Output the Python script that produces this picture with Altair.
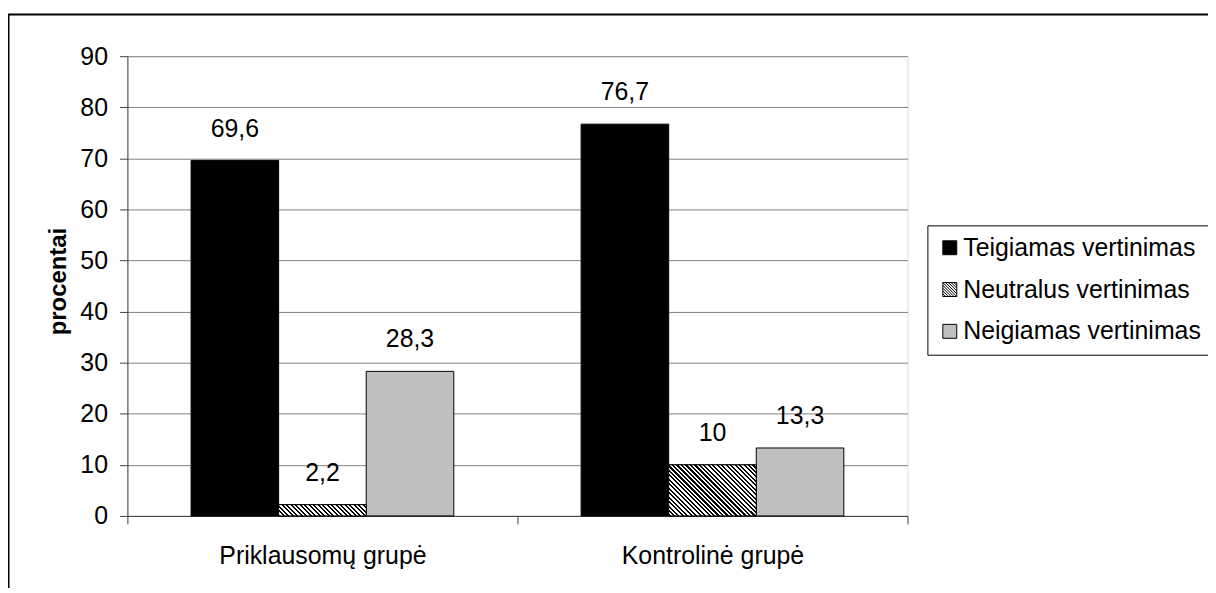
import altair as alt
import pandas as pd

groups = ["Priklausomų grupė", "Kontrolinė grupė"]
series = ["Teigiamas vertinimas", "Neutralus vertinimas", "Neigiamas vertinimas"]
values_priklausomu = [69.6, 2.2, 28.3]
values_kontroline = [76.7, 10, 13.3]
y_ticks = [0, 10, 20, 30, 40, 50, 60, 70, 80, 90]
series_colors = ["#000000", "#ffffff", "#c0c0c0"]

rows = []
for g, vals in zip(groups, [values_priklausomu, values_kontroline]):
    for s, v in zip(series, vals):
        rows.append({"group": g, "series": s, "value": v,
                     "label": f"{v:g}".replace(".", ",")})
df = pd.DataFrame(rows)

FONT = "Liberation Sans"
FS = 25
PLOT_W, PLOT_H = 784, 462
Y_MAX = 90
BAR_W = 88.0


def hatch_gradient(w, h, period=4.5):
    """Diagonal stripes as a hard-stop linear gradient in bbox units."""
    r = min(h / w, 1.0)
    s = (1 + r) / (1 + r * r)
    n = max(3, int(round(w * (1 + r) / period)))
    stops = []
    for k in range(n):
        a = k / n
        m = (k + 0.5) / n
        b = min((k + 1) / n, 1.0)
        stops += [
            {"offset": a, "color": "#000000"},
            {"offset": m, "color": "#000000"},
            {"offset": m, "color": "#ffffff"},
            {"offset": b, "color": "#ffffff"},
        ]
    return {"gradient": "linear", "x1": 0, "y1": 1, "x2": s, "y2": 1 - r * s,
            "stops": stops}


def hatch_symbol_path(step=0.4):
    parts = ["M-1,-1H1V1H-1Z"]
    c = -2 + step
    while c < 2 - 1e-9:
        if c >= 0:
            x0, y0, x1, y1 = c - 1, -1, 1, 1 - c
        else:
            x0, y0, x1, y1 = -1, -1 - c, 1 + c, 1
        parts.append(f"M{x0:.3f},{y0:.3f}L{x1:.3f},{y1:.3f}")
        c += step
    return "".join(parts)


series_shapes = ["square", hatch_symbol_path(), "square"]

x_enc = alt.X(
    "group:N", sort=groups, title=None,
    scale=alt.Scale(domain=groups, paddingInner=0, paddingOuter=0),
    axis=alt.Axis(labelAngle=0, tickBand="extent", tickSize=8, labelPadding=20,
                  labelFont=FONT, labelFontSize=FS, labelColor="black",
                  labelLimit=500,
                  domainColor="#404040", tickColor="#404040", grid=False),
)
xoff_enc = alt.XOffset(
    "series:N", sort=series,
    scale=alt.Scale(domain=series, paddingInner=0, paddingOuter=0.727),
)
y_enc = alt.Y(
    "value:Q",
    scale=alt.Scale(domain=[0, Y_MAX], nice=False, zero=True),
    axis=alt.Axis(values=y_ticks, tickSize=8, labelPadding=12,
                  labelFont=FONT, labelFontSize=FS, labelColor="black",
                  domainColor="#404040", tickColor="#404040",
                  gridColor="#808080", gridWidth=1,
                  title="procentai", titleFont=FONT, titleFontSize=24,
                  titleFontWeight="bold", titleColor="black",
                  titleAngle=-90, titleAlign="center", titleBaseline="middle",
                  titleX=-69, titleY=226),
)

legend = alt.Legend(
    title=None, orient="none", legendX=804, legendY=170,
    strokeColor="black", fillColor="white", padding=10,
    symbolSize=196, symbolStrokeColor="black",
    symbolStrokeWidth=1, labelFont=FONT, labelFontSize=FS, labelColor="black",
    labelOffset=1, rowPadding=16, labelLimit=500,
)

color_scale = alt.Scale(domain=series, range=series_colors)

base = alt.Chart(df).encode(x=x_enc, xOffset=xoff_enc, y=y_enc)

bars = base.mark_bar(stroke="black", strokeWidth=1).encode(
    color=alt.Color("series:N", sort=series, scale=color_scale, legend=legend)
)

hatch_layers = []
for g, vals in zip(groups, [values_priklausomu, values_kontroline]):
    v = vals[1]
    h = v * PLOT_H / Y_MAX
    grad = hatch_gradient(BAR_W, h)
    hatch_layers.append(
        base.transform_filter(
            (alt.datum.series == series[1]) & (alt.datum.group == g)
        ).mark_bar(fill=grad, stroke="black", strokeWidth=1)
    )

legend_layer = base.transform_filter("false").mark_point(
    filled=True, stroke="black", strokeWidth=1
).encode(
    color=alt.Color("series:N", sort=series, scale=color_scale, legend=legend),
    shape=alt.Shape("series:N", sort=series,
                    scale=alt.Scale(domain=series, range=series_shapes),
                    legend=legend),
    opacity=alt.value(1),
)

texts = base.mark_text(font=FONT, fontSize=FS, color="black",
                       baseline="alphabetic", align="center", dy=-24).encode(
    text="label:N"
)

frame = alt.Chart(pd.DataFrame({"k": [0]})).mark_rect(
    fill="transparent", stroke="black", strokeWidth=2
).encode(
    x=alt.value(-119.5), x2=alt.value(1400),
    y=alt.value(-42), y2=alt.value(800),
)

chart = alt.layer(frame, bars, *hatch_layers, texts, legend_layer).properties(
    width=PLOT_W, height=PLOT_H,
    padding={"left": 120, "top": 47, "right": 302, "bottom": 71},
    autosize=alt.AutoSizeParams(type="none"),
    background="white",
).configure_view(stroke="#808080", strokeWidth=1).configure(font=FONT)

chart.save("out.html", embed_options={"renderer": "svg", "actions": False})
